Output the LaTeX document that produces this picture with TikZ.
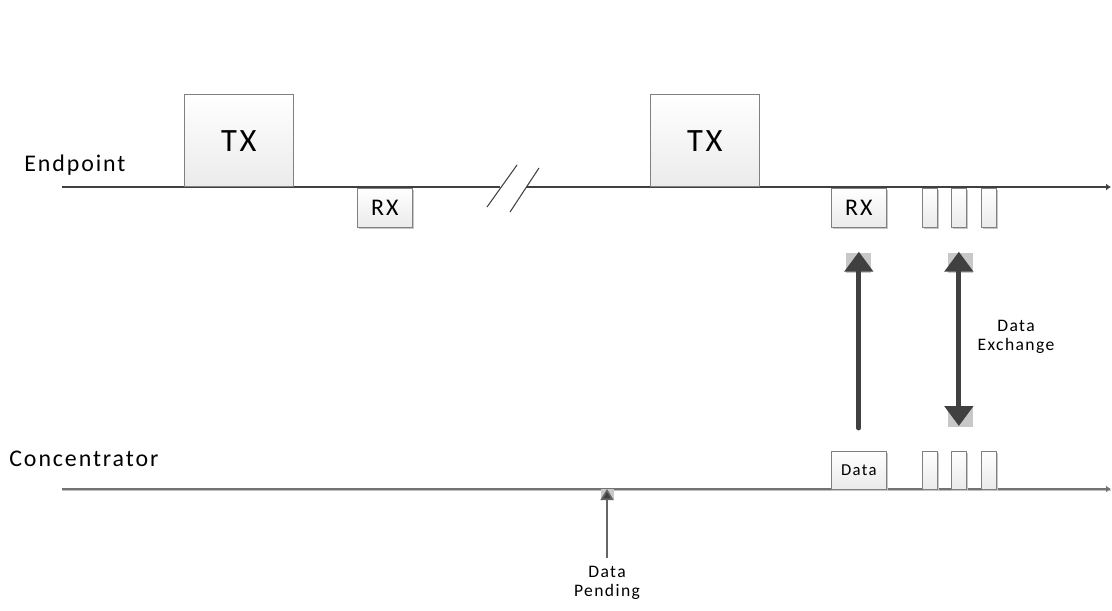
\documentclass[tikz,border=0pt]{standalone}
\usepackage{fontspec}
\setmainfont{Carlito}
\newfontfamily\spaced[LetterSpace=8]{Carlito}
\usetikzlibrary{positioning, arrows.meta, shadows}
\definecolor{linegray}{HTML}{404040}
\definecolor{boxedge}{HTML}{808080}
\definecolor{tipgray}{HTML}{C8C8C8}
\tikzset{
  slot/.style={draw=boxedge, top color=white, bottom color=black!8,
    inner sep=0pt, minimum width=0.3cm, minimum height=0.78cm,
    anchor=north west,
    drop shadow={shadow xshift=0.04cm, shadow yshift=-0.04cm, fill=black!22, opacity=1}},
  rxbox/.style={slot, minimum width=1.1cm},
  txbox/.style={draw=boxedge, top color=white, bottom color=black!8,
    inner sep=0pt, minimum width=2.18cm, minimum height=1.84cm,
    anchor=south west, font=\spaced\fontsize{18.5}{20}\selectfont},
  lbl/.style={font=\spaced\fontsize{13.6}{16}\selectfont, inner sep=0pt},
  small/.style={font=\spaced\fontsize{10}{11}\selectfont, align=center, inner sep=0pt},
  bigarrow/.style={linegray, line width=2.8pt, line cap=round},
  bighead/.tip={Triangle[width=0.56cm, length=0.4cm]}
}
\begin{document}
\begin{tikzpicture}[x=0.02cm, y=-0.02cm]
        \useasboundingbox (0,0) rectangle (1112,611);
        % Timelines
        \coordinate (epstart) at (62,187);
        \coordinate (epend) at (1111,187);
        \coordinate (costart) at (62,489);
        \coordinate (coend) at (1111,489);
        \coordinate (gapl) at (500,187);
        \coordinate (gapr) at (526,187);
        \draw[linegray, line width=0.6pt] (epstart) -- (gapl);
        \draw[linegray, line width=0.6pt, -{Latex[length=0.1cm, width=0.14cm]}] (gapr) -- (epend);
        \draw[black!25, line width=1pt] ([yshift=-0.03cm]costart) -- ([yshift=-0.03cm]coend);
        \draw[black!55, line width=0.8pt, -{Latex[length=0.1cm, width=0.14cm]}] (costart) -- (coend);
        % Break
        \coordinate (brk1a) at (487,207);
        \coordinate (brk1b) at (517,165);
        \coordinate (brk2a) at (510,212);
        \coordinate (brk2b) at (539,168);
        \draw[linegray, line width=0.6pt] (brk1a) -- (brk1b);
        \draw[linegray, line width=0.6pt] (brk2a) -- (brk2b);
        % Labels
        \node[lbl, anchor=base west] (endpoint) at (24,172) {Endpoint};
        \node[lbl, anchor=base west] (concentrator) at (9,466) {Concentrator};
        % Endpoint boxes
        \node[txbox] (tx1) at (184,187) {TX};
        \node[txbox] (tx2) at (650,187) {TX};
        \node[rxbox, lbl] (rx1) at (357,188) {RX};
        \node[rxbox, lbl] (rx2) at (831,188) {RX};
        \node[slot] (es1) at (922,188) {};
        \node[slot] (es2) at (951,188) {};
        \node[slot] (es3) at (981,188) {};
        % Concentrator boxes
        \node[rxbox, minimum height=0.76cm, font=\spaced\fontsize{9.5}{11}\selectfont] (data) at (831,451) {Data};
        \node[slot, minimum height=0.76cm] (cs1) at (922,451) {};
        \node[slot, minimum height=0.76cm] (cs2) at (951,451) {};
        \node[slot, minimum height=0.76cm] (cs3) at (981,451) {};
        % Arrows
        \fill[tipgray] (846,253) rectangle (871,273);
        \fill[tipgray] (948,253) rectangle (973,273);
        \fill[tipgray] (948,407) rectangle (973,427);
        \fill[tipgray] (601,489) rectangle (614,500);
        \draw[bigarrow, -bighead, shorten >=0.48cm, shorten <=0.46cm] (data.north) -- (rx2.south);
        \draw[bigarrow, bighead-bighead, shorten >=0.48cm, shorten <=0.5cm] (cs2.north) -- (es2.south);
        \node[small] (exchange) at (1016,337) {Data\\Exchange};
        \node[small] (pending) at (607,583) {Data\\Pending};
        \coordinate (pendtip) at (607,489);
        \draw[black!60, line width=0.9pt, -{Triangle[width=0.26cm, length=0.22cm, fill=linegray]}, shorten <=0.16cm] (pending.north) -- (pendtip);
\end{tikzpicture}
\end{document}
